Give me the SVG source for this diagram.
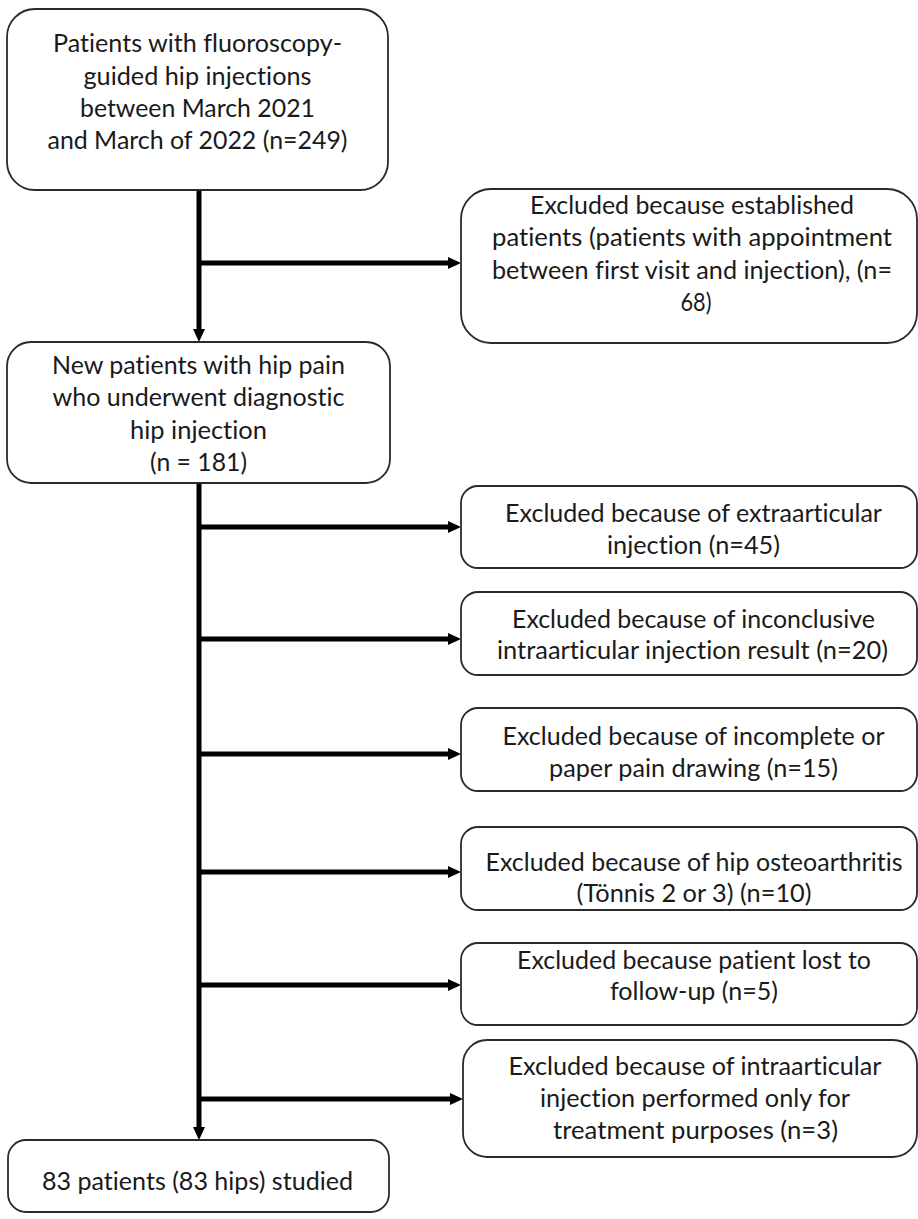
<svg xmlns="http://www.w3.org/2000/svg" width="918" height="1219" viewBox="0 0 918 1219">
<defs>
<style>
.box{fill:#fff;stroke:#2a2a2a;stroke-width:1.8}
.t{font-family:Lato,"Open Sans","Liberation Sans",sans-serif;font-size:24.5px;fill:#1a1a1a;text-anchor:middle;font-variant-ligatures:none}
.c{fill:none;stroke:#000;stroke-width:5}
</style>
<marker id="ah" viewBox="0 0 13 12" refX="0" refY="6" markerWidth="13" markerHeight="12" markerUnits="userSpaceOnUse" orient="auto">
<path d="M0,0 L13,6 L0,12 z" fill="#000"/>
</marker>
</defs>
<rect width="918" height="1219" fill="#fff"/>
<g id="connectors">
<path class="c" d="M199,190 V329" marker-end="url(#ah)"/>
<path class="c" d="M199,263 H448" marker-end="url(#ah)"/>
<path class="c" d="M199,483 V1127" marker-end="url(#ah)"/>
<path class="c" d="M199,527 H448" marker-end="url(#ah)"/>
<path class="c" d="M199,639 H448" marker-end="url(#ah)"/>
<path class="c" d="M199,754 H448" marker-end="url(#ah)"/>
<path class="c" d="M199,872 H448" marker-end="url(#ah)"/>
<path class="c" d="M199,985 H448" marker-end="url(#ah)"/>
<path class="c" d="M199,1099 H450" marker-end="url(#ah)"/>
</g>
<g id="n1">
<rect class="box" x="7" y="9" width="381" height="181" rx="28"/>
<text class="t" x="197.5" y="52" textLength="289" lengthAdjust="spacingAndGlyphs">Patients with fluoroscopy-</text>
<text class="t" x="197.5" y="84.5" textLength="228" lengthAdjust="spacingAndGlyphs">guided hip injections</text>
<text class="t" x="197.5" y="117" textLength="235" lengthAdjust="spacingAndGlyphs">between March 2021</text>
<text class="t" x="197.5" y="149" textLength="300" lengthAdjust="spacingAndGlyphs">and March of 2022 (n=249)</text>
</g>
<g id="n2">
<rect class="box" x="461" y="189" width="456" height="154" rx="30"/>
<text class="t" x="692" y="214" textLength="324" lengthAdjust="spacingAndGlyphs">Excluded because established</text>
<text class="t" x="692" y="246" textLength="400" lengthAdjust="spacingAndGlyphs">patients (patients with appointment</text>
<text class="t" x="692" y="279" textLength="400" lengthAdjust="spacingAndGlyphs">between first visit and injection), (n=</text>
<text class="t" x="696" y="311" textLength="31" lengthAdjust="spacingAndGlyphs">68)</text>
</g>
<g id="n3">
<rect class="box" x="7" y="342" width="383" height="141" rx="24"/>
<text class="t" x="198.5" y="374" textLength="293" lengthAdjust="spacingAndGlyphs">New patients with hip pain</text>
<text class="t" x="198.5" y="406" textLength="292" lengthAdjust="spacingAndGlyphs">who underwent diagnostic</text>
<text class="t" x="198.5" y="439" textLength="137" lengthAdjust="spacingAndGlyphs">hip injection</text>
<text class="t" x="198.5" y="471" textLength="97" lengthAdjust="spacingAndGlyphs">(n = 181)</text>
</g>
<g id="n4">
<rect class="box" x="461" y="486" width="456" height="82" rx="17"/>
<text class="t" x="693.5" y="522" textLength="377" lengthAdjust="spacingAndGlyphs">Excluded because of extraarticular</text>
<text class="t" x="693.5" y="554" textLength="173" lengthAdjust="spacingAndGlyphs">injection (n=45)</text>
</g>
<g id="n5">
<rect class="box" x="461" y="592" width="456" height="83" rx="17"/>
<text class="t" x="693.5" y="628" textLength="363" lengthAdjust="spacingAndGlyphs">Excluded because of inconclusive</text>
<text class="t" x="692.5" y="659" textLength="391" lengthAdjust="spacingAndGlyphs">intraarticular injection result (n=20)</text>
</g>
<g id="n6">
<rect class="box" x="461" y="708" width="456" height="83" rx="17"/>
<text class="t" x="693.5" y="745" textLength="382" lengthAdjust="spacingAndGlyphs">Excluded because of incomplete or</text>
<text class="t" x="693.5" y="777" textLength="289" lengthAdjust="spacingAndGlyphs">paper pain drawing (n=15)</text>
</g>
<g id="n7">
<rect class="box" x="461" y="827" width="456" height="83" rx="17"/>
<text class="t" x="694" y="871" textLength="417" lengthAdjust="spacingAndGlyphs">Excluded because of hip osteoarthritis</text>
<text class="t" x="694" y="902" textLength="235" lengthAdjust="spacingAndGlyphs">(Tönnis 2 or 3) (n=10)</text>
</g>
<g id="n8">
<rect class="box" x="461" y="943" width="456" height="82" rx="17"/>
<text class="t" x="694" y="969" textLength="354" lengthAdjust="spacingAndGlyphs">Excluded because patient lost to</text>
<text class="t" x="694" y="1000" textLength="168" lengthAdjust="spacingAndGlyphs">follow-up (n=5)</text>
</g>
<g id="n9">
<rect class="box" x="463" y="1040" width="454" height="117" rx="24"/>
<text class="t" x="695" y="1075" textLength="373" lengthAdjust="spacingAndGlyphs">Excluded because of intraarticular</text>
<text class="t" x="695" y="1107" textLength="310" lengthAdjust="spacingAndGlyphs">injection performed only for</text>
<text class="t" x="695.5" y="1139" textLength="285" lengthAdjust="spacingAndGlyphs">treatment purposes (n=3)</text>
</g>
<g id="n10">
<rect class="box" x="8" y="1140" width="381" height="72" rx="18"/>
<text class="t" x="197.5" y="1190" textLength="311" lengthAdjust="spacingAndGlyphs">83 patients (83 hips) studied</text>
</g>
</svg>
